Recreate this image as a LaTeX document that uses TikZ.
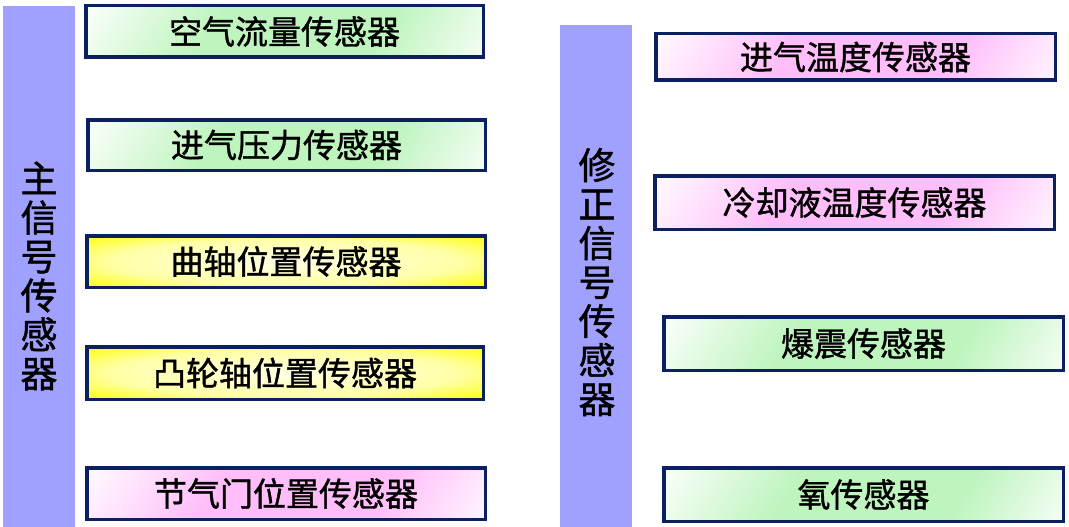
\documentclass[tikz,border=0pt]{standalone}
\usepackage{fontspec}
\newfontfamily\cjk{Noto Sans CJK SC}[RawFeature={embolden=1.2}]
\usetikzlibrary{shadings}
\definecolor{navy}{RGB}{10,32,96}
\definecolor{lav}{RGB}{160,160,255}
\definecolor{lgreen}{RGB}{190,244,190}
\definecolor{lpink}{RGB}{255,190,250}
\pgfdeclareradialshading{yelrad}{\pgfpoint{0bp}{0bp}}{color(0bp)=(yellow!10); color(22bp)=(yellow!35); color(36bp)=(yellow); color(50bp)=(yellow)}
\pgfdeclareverticalshading{gsh}{100bp}{color(0bp)=(white); color(12bp)=(white); color(34bp)=(lgreen); color(62bp)=(lgreen); color(86bp)=(white); color(100bp)=(white)}
\pgfdeclareverticalshading{psh}{100bp}{color(0bp)=(white); color(12bp)=(white); color(34bp)=(lpink); color(62bp)=(lpink); color(86bp)=(white); color(100bp)=(white)}
\tikzset{
  sbox/.style={draw=navy, line width=3.5pt, inner sep=0pt, font=\cjk\fontsize{33}{35}\selectfont},
  gbox/.style={sbox, shading=gsh, shading angle=58},
  pbox/.style={sbox, shading=psh, shading angle=58},
  ybox/.style={sbox, shading=yelrad},
  bar/.style={fill=lav, draw=none, inner sep=0pt},
  vtext/.style={align=center, inner sep=0pt, font=\cjk\fontsize{37}{39}\selectfont}
}
\begin{document}
\begin{tikzpicture}[x=1pt,y=-1pt]
\useasboundingbox (0,0) rectangle (1069,527);
% bars
\node[bar, minimum width=72pt, minimum height=521pt] (lbar) at (39,266.5) {};
\node[bar, minimum width=72pt, minimum height=502pt] (rbar) at (596,276) {};
\node[vtext] (ltxt) at (39,276) {主\\信\\号\\传\\感\\器};
\node[vtext] (rtxt) at (597,282) {修\\正\\信\\号\\传\\感\\器};
% left boxes
\node[gbox, minimum width=397.5pt, minimum height=51.5pt] (b1) at (284.5,31.5) {空气流量传感器};
\node[gbox, minimum width=397.5pt, minimum height=50.5pt] (b2) at (286.5,145) {进气压力传感器};
\node[ybox, minimum width=398.5pt, minimum height=51.5pt] (b3) at (286,261.5) {曲轴位置传感器};
\node[ybox, minimum width=396.5pt, minimum height=52.5pt] (b4) at (285,373) {凸轮轴位置传感器};
\node[pbox, minimum width=398.5pt, minimum height=51.5pt] (b5) at (286,493.5) {节气门位置传感器};
% right boxes
\node[pbox, minimum width=399.5pt, minimum height=46.5pt] (b6) at (855.5,57) {进气温度传感器};
\node[pbox, minimum width=399.5pt, minimum height=53.5pt] (b7) at (854.5,202.5) {冷却液温度传感器};
\node[gbox, minimum width=399.5pt, minimum height=53.5pt] (b8) at (863.5,343.5) {爆震传感器};
\node[gbox, minimum width=399.5pt, minimum height=53.5pt] (b9) at (863.5,494.5) {氧传感器};
\end{tikzpicture}
\end{document}
